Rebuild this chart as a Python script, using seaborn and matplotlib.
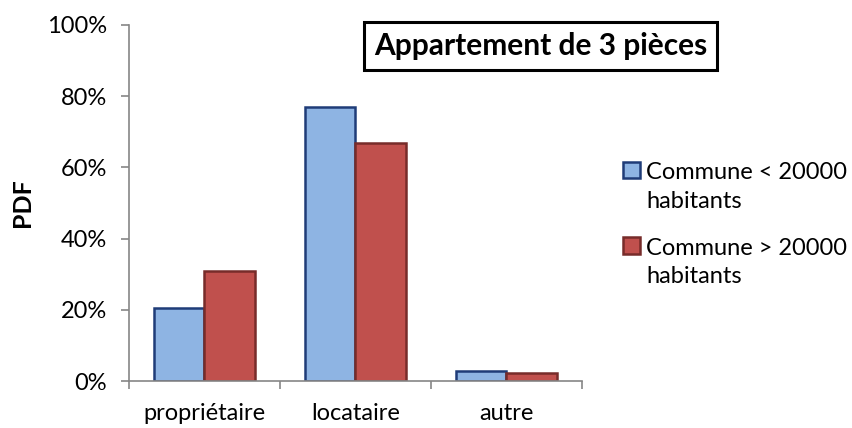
import matplotlib
matplotlib.use("Agg")
import matplotlib.pyplot as plt
import matplotlib.ticker as mticker
from matplotlib.legend_handler import HandlerPatch
import pandas as pd
import seaborn as sns

# data (percent)
categories = ["propriétaire", "locataire", "autre"]
series = ["Commune < 20000\nhabitants", "Commune > 20000\nhabitants"]
small_town = [20.5, 77.0, 2.8]
large_town = [31.0, 66.8, 2.3]

FILL = ["#8EB4E3", "#C0504D"]
EDGE = ["#1F3C78", "#772C2A"]
AXIS_GREY = "#868686"
FS = 17

sns.set_theme(style="white")
plt.rcParams["font.family"] = ["Lato", "DejaVu Sans"]
plt.rcParams.update({"text.color": "black", "xtick.color": "black",
                     "ytick.color": "black", "axes.labelcolor": "black"})

df = pd.DataFrame({
    "categorie": categories * 2,
    "serie": [series[0]] * 3 + [series[1]] * 3,
    "pdf": small_town + large_town,
})

fig = plt.figure(figsize=(8.53, 4.28), dpi=100)
ax = fig.add_axes([0.1512, 0.1098, 0.5311, 0.8318])

sns.barplot(data=df, x="categorie", y="pdf", hue="serie", order=categories,
            hue_order=series, palette=FILL, width=0.675, ax=ax,
            saturation=1, legend=False)

# outline each series in its darker edge colour
for cont, edge in zip(ax.containers, EDGE):
    for bar in cont:
        bar.set_edgecolor(edge)
        bar.set_linewidth(1.8)

ax.set_ylim(0, 100)
ax.set_xlim(-0.5, 2.5)
ax.yaxis.set_major_locator(mticker.MultipleLocator(20))
ax.yaxis.set_major_formatter(mticker.PercentFormatter(decimals=0))

# x ticks at category boundaries, labels centred without marks
ax.set_xticks([-0.5, 0.5, 1.5, 2.5], minor=True)
ax.tick_params(axis="x", which="major", length=0, labelsize=FS, pad=16)
ax.tick_params(axis="x", which="minor", length=6, width=1.2, color=AXIS_GREY,
               direction="out", bottom=True)
ax.tick_params(axis="y", which="major", length=6, width=1.2, color=AXIS_GREY,
               direction="out", left=True, labelsize=FS, pad=10)

for side in ["top", "right"]:
    ax.spines[side].set_visible(False)
for side in ["left", "bottom"]:
    ax.spines[side].set_color(AXIS_GREY)
    ax.spines[side].set_linewidth(1.2)

ax.set_xlabel("")
ax.set_ylabel("PDF", fontsize=18, fontweight="bold", labelpad=9)

fig.text(0.634, 0.8925, "Appartement de 3 pièces", fontsize=21.5,
         fontweight="bold", ha="center", va="center",
         bbox=dict(boxstyle="square,pad=0.33", facecolor="white",
                   edgecolor="black", linewidth=2.2))


def top_aligned_square(legend, orig_handle, xdescent, ydescent, width,
                       height, fontsize):
    # square sits next to the first line of a two-line label
    return plt.Rectangle((-xdescent, -ydescent + 0.72 * fontsize), width, height)


handles = [plt.Rectangle((0, 0), 1, 1, facecolor=f, edgecolor=e, linewidth=1.8)
           for f, e in zip(FILL, EDGE)]
leg = fig.legend(handles, series, loc="center left",
                 bbox_to_anchor=(0.706, 0.475), frameon=False, fontsize=FS,
                 handlelength=0.7, handleheight=0.7, handletextpad=0.25,
                 labelspacing=1.1,
                 handler_map={plt.Rectangle: HandlerPatch(patch_func=top_aligned_square)})
for t in leg.get_texts():
    t.set_linespacing(1.45)

fig.savefig("out.png", dpi=100)
